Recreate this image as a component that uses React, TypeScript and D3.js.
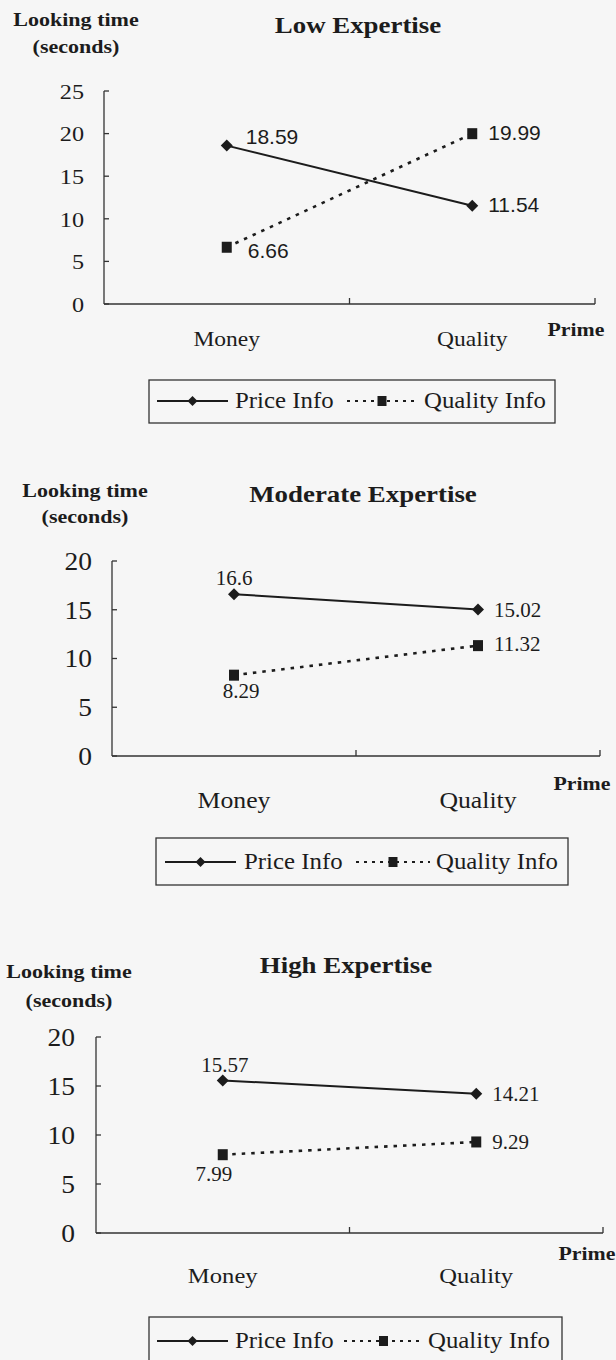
import React from "react";
import * as d3 from "d3";

const categories = ["Money", "Quality"];
const panelTitles = ["Low Expertise", "Moderate Expertise", "High Expertise"];
const priceInfo = [
  [18.59, 11.54],
  [16.6, 15.02],
  [15.57, 14.21],
];
const qualityInfo = [
  [6.66, 19.99],
  [8.29, 11.32],
  [7.99, 9.29],
];
const yMaxes = [25, 20, 20];
const yTickStep = 5;
const yAxisTitle = ["Looking time", "(seconds)"];
const xAxisTitle = "Prime";
const seriesNames = ["Price Info", "Quality Info"];

const SERIF = "'Liberation Serif', 'Times New Roman', serif";
const SANS = "'Liberation Sans', Arial, sans-serif";
const INK = "#1c1c1c";

type Off = [number, number, string];
const layouts = [
  {
    x0: 104, x1: 595, y0: 304, y1: 91,
    tickFont: 22, tickRight: 84,
    catFont: 21, catBase: 346,
    primeX: 576, primeBase: 336,
    ytX: 76, yt1: 26, yt2: 53,
    titleX: 358, titleBase: 33,
    labelFont: 21, labelFamily: SANS, labelSx: 1,
    offs: [
      [[19, -2, "start"], [16, 6, "start"]],
      [[21, 11, "start"], [16, 6, "start"]],
    ] as Off[][],
    legend: { x: 149, y: 380, w: 406, h: 43, base: 408, l1: [157, 228], t1: 235, l2: [347, 417], t2: 424 },
  },
  {
    x0: 112, x1: 600, y0: 756, y1: 561,
    tickFont: 25, tickRight: 92,
    catFont: 23, catBase: 808,
    primeX: 582, primeBase: 790,
    ytX: 85, yt1: 497, yt2: 523,
    titleX: 363, titleBase: 502,
    labelFont: 21, labelFamily: SERIF, labelSx: 1,
    offs: [
      [[0, -9, "middle"], [16, 7, "start"]],
      [[7, 23, "middle"], [16, 5, "start"]],
    ] as Off[][],
    legend: { x: 156, y: 838, w: 412, h: 47, base: 869, l1: [165, 236], t1: 244, l2: [356, 430], t2: 436 },
  },
  {
    x0: 96, x1: 603, y0: 1233, y1: 1037,
    tickFont: 25, tickRight: 75,
    catFont: 22, catBase: 1283,
    primeX: 587, primeBase: 1260,
    ytX: 69, yt1: 978, yt2: 1007,
    titleX: 346, titleBase: 973,
    labelFont: 21, labelFamily: SERIF, labelSx: 1,
    offs: [
      [[2, -8, "middle"], [16, 7, "start"]],
      [[-9, 26, "middle"], [16, 7, "start"]],
    ] as Off[][],
    legend: { x: 149, y: 1317, w: 413, h: 50, base: 1348, l1: [157, 228], t1: 235, l2: [344, 423], t2: 428 },
  },
];

function T(props: {
  x: number; y: number; children: any; size: number; weight?: any;
  anchor?: string; family?: string; sx?: number; dy?: string;
}) {
  const { x, y, children, size, weight = "normal", anchor = "start", family = SERIF, sx = 1.12, dy } = props;
  return (
    <text
      transform={`translate(${x},${y}) scale(${sx},1)`}
      fontSize={size}
      fontWeight={weight}
      fontFamily={family}
      textAnchor={anchor as any}
      fill={INK}
      dy={dy}
    >
      {children}
    </text>
  );
}

function diamondPath(cx: number, cy: number, r: number) {
  return `M${cx},${cy - r}L${cx + r},${cy}L${cx},${cy + r}L${cx - r},${cy}Z`;
}

function Panel({ i }: { i: number }) {
  const L = layouts[i];
  const x = d3.scaleBand<string>().domain(categories).range([L.x0, L.x1]).padding(0);
  const y = d3.scaleLinear().domain([0, yMaxes[i]]).range([L.y0, L.y1]);
  const cx = (c: string) => (x(c) as number) + x.bandwidth() / 2;
  const ticks = d3.range(0, yMaxes[i] + 0.001, yTickStep);
  const line = d3
    .line<number>()
    .x((_, k) => cx(categories[k]))
    .y((v) => y(v));
  const series = [priceInfo[i], qualityInfo[i]];
  const lg = L.legend;
  const lgMidY = lg.base - 7;
  const dm1 = (lg.l1[0] + lg.l1[1]) / 2;
  const sq2 = (lg.l2[0] + lg.l2[1]) / 2;

  return (
    <g>
      {/* axis titles */}
      <T x={L.ytX} y={L.yt1} size={19} weight="bold" anchor="middle" sx={1.16}>{yAxisTitle[0]}</T>
      <T x={L.ytX} y={L.yt2} size={19} weight="bold" anchor="middle" sx={1.16}>{yAxisTitle[1]}</T>
      <T x={L.titleX} y={L.titleBase} size={24} weight="bold" anchor="middle" sx={1.12}>{panelTitles[i]}</T>

      {/* y axis */}
      <line x1={L.x0} x2={L.x0} y1={y(0)} y2={y(yMaxes[i])} stroke="#333" strokeWidth={1.3} />
      {ticks.map((t) => (
        <g key={t}>
          <line x1={L.x0} x2={L.x0 + 5} y1={y(t)} y2={y(t)} stroke="#333" strokeWidth={1.3} />
          <T x={L.tickRight} y={y(t)} size={L.tickFont} anchor="end" sx={1.1} dy="0.35em">{t}</T>
        </g>
      ))}

      {/* x axis */}
      <line x1={L.x0} x2={L.x1} y1={y(0)} y2={y(0)} stroke="#333" strokeWidth={1.3} />
      {categories.map((c) => (
        <line key={c} x1={(x(c) as number) + x.bandwidth()} x2={(x(c) as number) + x.bandwidth()} y1={y(0)} y2={y(0) - 6} stroke="#333" strokeWidth={1.3} />
      ))}
      {categories.map((c) => (
        <T key={c} x={cx(c)} y={L.catBase} size={L.catFont} anchor="middle" sx={1.12}>{c}</T>
      ))}
      <T x={L.primeX} y={L.primeBase} size={19.5} weight="bold" anchor="middle" sx={1.12}>{xAxisTitle}</T>

      {/* lines */}
      <path d={line(series[0]) as string} fill="none" stroke={INK} strokeWidth={2} />
      <path d={line(series[1]) as string} fill="none" stroke={INK} strokeWidth={2.6} strokeDasharray="3.5,6" />

      {/* markers */}
      {series[0].map((v, k) => (
        <path key={"d" + k} d={diamondPath(cx(categories[k]), y(v), 6)} fill={INK} />
      ))}
      {series[1].map((v, k) => (
        <rect key={"s" + k} x={cx(categories[k]) - 5} y={y(v) - 5.5} width={10} height={11} fill={INK} />
      ))}

      {/* value labels */}
      {series.map((s, si) =>
        s.map((v, k) => {
          const o = L.offs[si][k];
          return (
            <T key={si + "-" + k} x={cx(categories[k]) + o[0]} y={y(v) + o[1]} size={L.labelFont} family={L.labelFamily} anchor={o[2]} sx={L.labelSx}>
              {v}
            </T>
          );
        })
      )}

      {/* legend */}
      <rect x={lg.x} y={lg.y} width={lg.w} height={lg.h} fill="none" stroke="#333" strokeWidth={1.3} />
      <line x1={lg.l1[0]} x2={lg.l1[1]} y1={lgMidY} y2={lgMidY} stroke={INK} strokeWidth={2} />
      <path d={diamondPath(dm1, lgMidY, 5)} fill={INK} />
      <T x={lg.t1} y={lg.base} size={23} sx={1.08}>{seriesNames[0]}</T>
      <line x1={lg.l2[0]} x2={lg.l2[1]} y1={lgMidY} y2={lgMidY} stroke={INK} strokeWidth={2.2} strokeDasharray="3,5" />
      <rect x={sq2 - 4.5} y={lgMidY - 5} width={9} height={10} fill={INK} />
      <T x={lg.t2} y={lg.base} size={23} sx={1.08}>{seriesNames[1]}</T>
    </g>
  );
}

export default function App() {
  return (
    <svg
      width={616}
      height={1360}
      style={{ position: "absolute", left: 0, top: 0, background: "#f6f6f6" }}
    >
      <rect x={0} y={0} width={616} height={1360} fill="#f6f6f6" />
      {panelTitles.map((_, i) => (
        <Panel key={i} i={i} />
      ))}
    </svg>
  );
}
